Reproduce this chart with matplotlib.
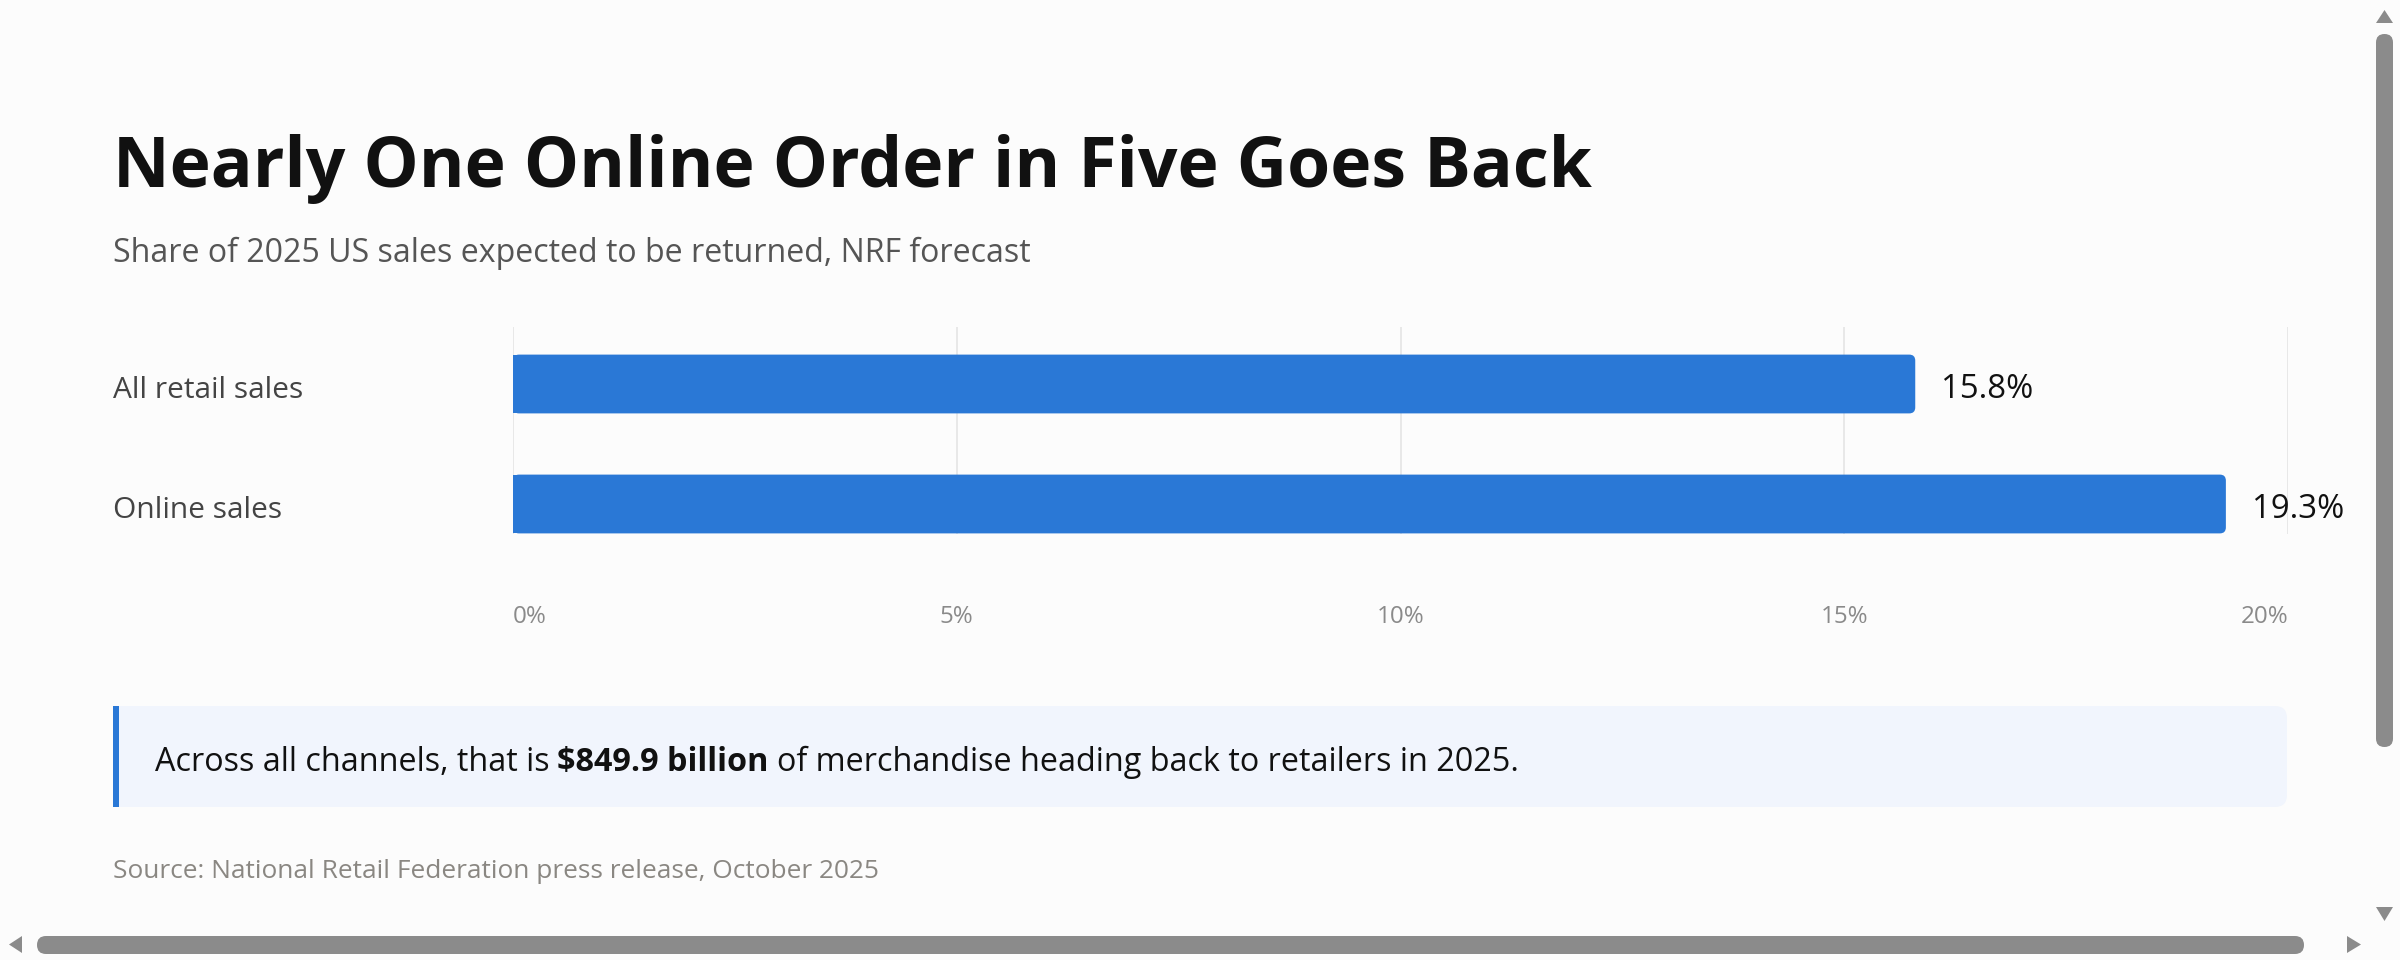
import matplotlib
matplotlib.use("Agg")
import matplotlib.pyplot as plt
from matplotlib import font_manager as fm
from matplotlib.patches import FancyBboxPatch, Rectangle, Polygon
from matplotlib import transforms

# ---------------- data ----------------
categories = ["All retail sales", "Online sales"]
return_share = [15.8, 19.3]
x_ticks = [0, 5, 10, 15, 20]
x_tick_labels = ["0%", "5%", "10%", "15%", "20%"]
title = "Nearly One Online Order in Five Goes Back"
subtitle = "Share of 2025 US sales expected to be returned, NRF forecast"
callout_parts = ["Across all channels, that is", "$849.9 billion",
                 "of merchandise heading back to retailers in 2025."]
source = "Source: National Retail Federation press release, October 2025"

# ---------------- fonts ----------------
def has_weights(fam):
    ws = [f.weight for f in fm.fontManager.ttflist if f.name == fam]
    ws = [w if isinstance(w, int) else {"normal": 400, "regular": 400, "bold": 700}.get(str(w), 400) for w in ws]
    return any(w <= 500 for w in ws) and any(w >= 600 for w in ws)

FAMILY = "DejaVu Sans"
for cand in ["Noto Sans", "Open Sans", "Lato", "Roboto", "Liberation Sans"]:
    if has_weights(cand):
        FAMILY = cand
        break

# ---------------- style ----------------
W, H, DPI = 2400, 960, 100
BG = "#fcfcfc"
BLUE = "#2a78d6"
plt.rcParams["font.family"] = [FAMILY, "DejaVu Sans"]

fig = plt.figure(figsize=(W / DPI, H / DPI), dpi=DPI, facecolor=BG)
ov = fig.add_axes([0, 0, 1, 1], zorder=0)
ov.set_xlim(0, W)
ov.set_ylim(H, 0)
ov.axis("off")
renderer = fig.canvas.get_renderer()


def width_of(t):
    return t.get_window_extent(renderer).width


def fit(t, target_w):
    base = t.get_fontsize()
    t.set_fontsize(base * target_w / width_of(t))
    return t.get_fontsize()


def shift_down(px):
    return transforms.ScaledTranslation(0, -px / DPI, fig.dpi_scale_trans)


# ---------------- header ----------------
t = ov.text(113, 187, title, fontsize=40, fontweight="bold", color="#111111",
            va="baseline", ha="left")
fit(t, 1479)
t = ov.text(113, 262, subtitle, fontsize=20, color="#555555", va="baseline", ha="left")
fit(t, 917)

# ---------------- chart ----------------
ax = fig.add_axes([513 / W, 1 - 534 / H, (2288 - 513) / W, 207 / H], zorder=2)
ax.patch.set_alpha(0)
y_pos = list(range(len(categories)))
bars = ax.barh(y_pos, return_share, height=0.49, color=BLUE, zorder=3, linewidth=0)
ax.set_xlim(x_ticks[0], x_ticks[-1])
ax.set_ylim(1.25, -0.475)
ax.set_xticks(x_ticks)
ax.set_yticks([])
ax.xaxis.grid(True, color="#e3e3e3", linewidth=1.1)
ax.set_axisbelow(True)
ax.tick_params(length=0, labelbottom=False, labelleft=False)
for s in ax.spines.values():
    s.set_visible(False)

# rounded right ends of the bars
p0 = ax.transData.transform((0, 0))
p1 = ax.transData.transform((1, 1))
px_x = abs(p1[0] - p0[0])
px_y = abs(p1[1] - p0[1])
r_px = 6
for rect in bars:
    x0, y0 = rect.get_x(), rect.get_y()
    w, h = rect.get_width(), rect.get_height()
    rb = FancyBboxPatch((x0, y0), w, h,
                        boxstyle=f"round,pad=0,rounding_size={r_px / px_x}",
                        mutation_aspect=px_x / px_y, fc=BLUE, ec="none", zorder=3)
    ax.add_patch(rb)
    rect.set_width(w / 2)

# value labels
val_texts = []
for yi, v in zip(y_pos, return_share):
    a = ax.annotate(f"{v:.1f}%", xy=(v, yi), xytext=(26 * 72 / DPI, -1.5 * 72 / DPI),
                    textcoords="offset points", va="center_baseline", ha="left",
                    color="#111111", fontsize=20, annotation_clip=False)
    val_texts.append(a)
fs = fit(val_texts[0], 92)
for a in val_texts:
    a.set_fontsize(fs)

# category labels
tr_cat = transforms.blended_transform_factory(ov.transData, ax.transData) + shift_down(3)
cat_texts = [ov.text(113, yi, c, transform=tr_cat, va="center_baseline", ha="left",
                     color="#444444", fontsize=20)
             for yi, c in zip(y_pos, categories)]
fs = fit(cat_texts[0], 190)
for c in cat_texts:
    c.set_fontsize(fs)

# x tick labels
tr_tick = transforms.blended_transform_factory(ax.transData, ov.transData)
tick_texts = []
for i, (tv, tl) in enumerate(zip(x_ticks, x_tick_labels)):
    ha = "left" if i == 0 else ("right" if i == len(x_ticks) - 1 else "center")
    tick_texts.append(ov.text(tv, 614, tl, transform=tr_tick, ha=ha,
                              va="center_baseline", color="#8a8a8a", fontsize=14))
fs = fit(tick_texts[-1], 48)
for tt in tick_texts:
    tt.set_fontsize(fs)

# ---------------- callout ----------------
box = FancyBboxPatch((113, 706), 2174, 101, boxstyle="round,pad=0,rounding_size=12",
                     fc="#f1f5fd", ec="none", zorder=1)
ov.add_patch(box)
ov.add_patch(Rectangle((113, 706), 30, 101, fc="#f1f5fd", ec="none", zorder=1))
ov.add_patch(Rectangle((113, 706), 6, 101, fc=BLUE, ec="none", zorder=2))

base_fs = 20
weights = ["normal", "bold", "normal"]
parts = [ov.text(0, 771, s, fontsize=base_fs, fontweight=wt, color="#111111",
                 va="baseline", ha="left", parse_math=False)
         for s, wt in zip(callout_parts, weights)]
sp_a = ov.text(0, 0, "a a", fontsize=base_fs, alpha=0)
sp_b = ov.text(0, 0, "aa", fontsize=base_fs, alpha=0)
space = width_of(sp_a) - width_of(sp_b)
sp_a.remove()
sp_b.remove()
widths = [width_of(p) for p in parts]
total = sum(widths) + 2 * space
scale = 1362 / total
x = 155
for p, w in zip(parts, widths):
    p.set_fontsize(base_fs * scale)
    p.set_x(x)
    x += (w + space) * scale

# ---------------- source ----------------
t = ov.text(113, 878, source, fontsize=16, color="#8a8782", va="baseline", ha="left")
fit(t, 766)

# ---------------- scrollbars ----------------
SB = "#8b8b8b"
ov.add_patch(FancyBboxPatch((2376, 34), 17, 713, boxstyle="round,pad=0,rounding_size=8.5",
                            fc=SB, ec="none"))
ov.add_patch(Polygon([(2376, 23), (2393, 23), (2384.5, 10)], closed=True, fc=SB, ec="none"))
ov.add_patch(Polygon([(2376, 907), (2393, 907), (2384.5, 921)], closed=True, fc=SB, ec="none"))
ov.add_patch(FancyBboxPatch((37, 936), 2267, 18, boxstyle="round,pad=0,rounding_size=9",
                            fc=SB, ec="none"))
ov.add_patch(Polygon([(22, 936), (22, 953), (9, 944.5)], closed=True, fc=SB, ec="none"))
ov.add_patch(Polygon([(2347, 936), (2347, 953), (2361, 944.5)], closed=True, fc=SB, ec="none"))

fig.savefig("out.png", dpi=DPI, facecolor=BG)
